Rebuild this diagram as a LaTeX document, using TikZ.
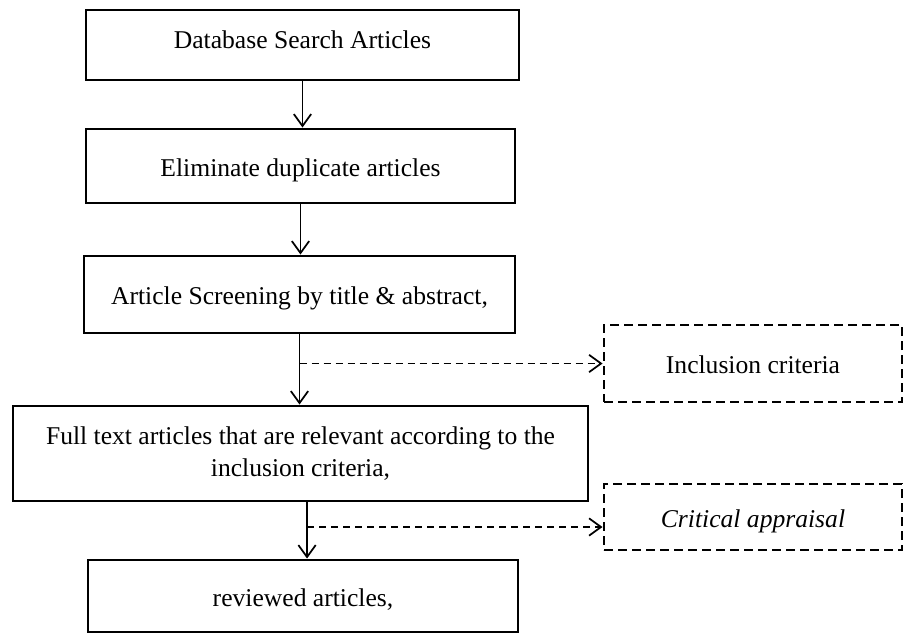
\documentclass[tikz,border=0pt]{standalone}
\usepackage{fontspec}
\setmainfont{Liberation Serif}
\usepackage{tikz}
\usetikzlibrary{arrows.meta}

\tikzset{
  stagebox/.style={draw,line width=2.2pt,align=center,inner sep=0pt,
    font=\fontsize{19.2}{24.5}\selectfont},
  oneline/.style={text height=19pt,text depth=4pt},
  critbox/.style={stagebox,oneline,dash pattern=on 6.5pt off 4pt},
  flowarrow/.style={line width=1.3pt,-{Straight Barb[length=9pt,width=13pt,line width=1.3pt]}},
  sidearrow/.style={flowarrow,dash pattern=on 5.5pt off 3.5pt}
}

\begin{document}
\begin{tikzpicture}[x=0.75pt,y=-0.75pt]
                              % Frame
                              \useasboundingbox (0,0) rectangle (904,635);

                              % Main steps
                              \node[stagebox,oneline,text depth=14pt,minimum width=324.75pt,minimum height=52.5pt] (search)
                              at (302.5,45) {Database Search Articles};
                              \node[stagebox,oneline,minimum width=321.75pt,minimum height=55.5pt] (dupl)
                              at (300.5,166) {Eliminate duplicate articles};
                              \node[stagebox,oneline,minimum width=323.25pt,minimum height=57.75pt] (screen)
                              at (299.5,294.5) {Article Screening by title \& abstract,};
                              \node[stagebox,minimum width=431.25pt,minimum height=71.25pt] (fulltext)
                              at (300.5,453.5) {Full text articles that are relevant according to the\\inclusion criteria,};
                              \node[stagebox,oneline,minimum width=322.5pt,minimum height=54pt] (review)
                              at (303,596) {reviewed articles,};

                              % Side steps
                              \node[critbox,minimum width=223.5pt,minimum height=57.75pt] (incl)
                              at (753,363.5) {Inclusion criteria};
                              \node[critbox,minimum width=223.5pt,minimum height=49.5pt] (crit)
                              at (753,517) {\itshape Critical appraisal};

                              % Arrows
                              \coordinate (ftout) at ([xshift=4.9pt]fulltext.south);
                              \coordinate (critin) at ([yshift=-7.5pt]crit.west);
                              \draw[flowarrow] (search.south) -- (search.south |- dupl.north);
                              \draw[flowarrow] (dupl.south) -- (dupl.south |- screen.north);
                              \draw[flowarrow] (screen.south) -- (screen.south |- fulltext.north);
                              \draw[flowarrow] (ftout) -- (ftout |- review.north);
                              \draw[sidearrow] (screen.south |- incl.west) -- (incl.west);
                              \draw[sidearrow] (ftout |- critin) -- (critin);
                        \end{tikzpicture}
\end{document}
